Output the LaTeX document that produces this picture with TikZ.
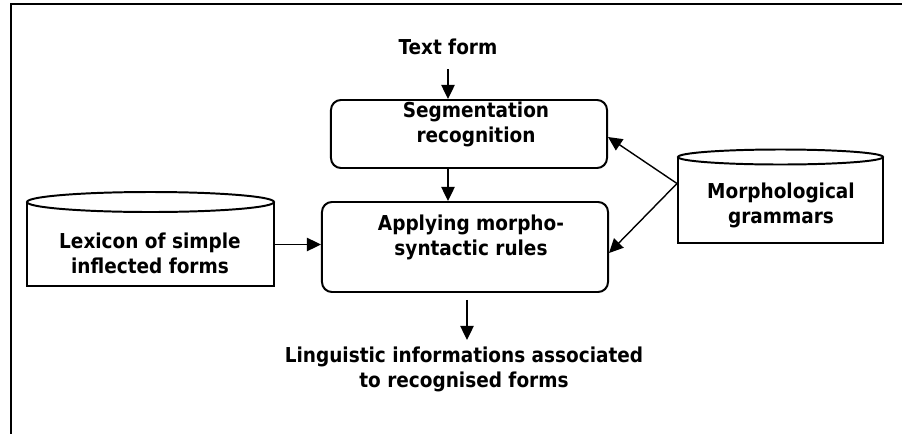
\documentclass[tikz,border=0pt]{standalone}
\usepackage{fontspec}
\setmainfont{DejaVu Sans Condensed}
\usetikzlibrary{arrows.meta,calc}
\tikzset{box/.style={draw,rounded corners=0.25cm,line width=1.4pt},
  db/.style={draw,line width=1.4pt},
  lbl/.style={font=\bfseries\fontsize{14.6}{17.8}\selectfont,align=center,inner sep=0pt},
  arr/.style={line width=1pt,-{Triangle[length=10pt,width=9.5pt]}}}

\begin{document}
\begin{tikzpicture}[x=0.025cm,y=-0.025cm]
  \useasboundingbox (0,0) rectangle (902,434);
  \draw[line width=1.4pt] (902,4) -- (11,4) -- (11,434);

  \node[lbl] (txt) at (448,47) {Text form};
  \node[box,minimum width=6.9cm,minimum height=1.7cm] (seg) at (469,134) {};
  \node[lbl] at (476,124) {Segmentation\\recognition};
  \node[box,minimum width=7.15cm,minimum height=2.25cm] (app) at (465,247) {};
  \node[lbl] at (471,237) {Applying morpho-\\syntactic rules};

  \node[db,minimum width=6.175cm,minimum height=2.075cm] (lex) at (150.5,244.5) {};
  \draw[db,fill=white] (lex.north) ellipse [x radius=123.5,y radius=10];
  \node[lbl] at (150,253) {Lexicon of simple\\inflected forms};
  \node[db,minimum width=5.125cm,minimum height=2.125cm] (morph) at (780.5,200.5) {};
  \draw[db,fill=white] (morph.north) ellipse [x radius=102.5,y radius=7.5];
  \node[lbl] at (781,205) {Morphological\\grammars};

  \node[lbl] (lng) at (464,369.5) {Linguistic informations associated\\to recognised forms};

  \draw[arr] ($(txt.south)+(0,14)$) -- (seg.north -| txt);
  \draw[arr] (seg.south -| txt) -- (app.north -| txt);
  \draw[arr] (lex) -- (lex -| app.west);
  \draw[arr] ($(morph.west)+(0,-17)$) -- ($(seg.east)+(0,3)$);
  \draw[arr] ($(morph.west)+(0,-17)$) -- ($(app.east)+(0,6)$);
  \draw[arr] ($(app.south)+(2,7)$) -- ++(0,40);
\end{tikzpicture}
\end{document}
